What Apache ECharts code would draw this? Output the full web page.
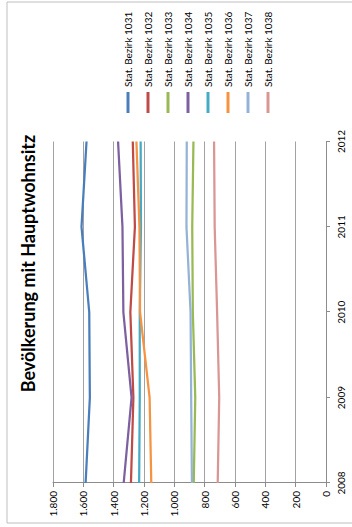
<!DOCTYPE html>
<html>
<head>
<meta charset="utf-8">
<script src="https://cdn.jsdelivr.net/npm/echarts@6/dist/echarts.min.js"></script>
<style>
html,body{margin:0;padding:0;background:#fff;overflow:hidden;width:352px;height:527px;}
#chart{position:absolute;left:0;top:0;width:527px;height:352px;transform-origin:0 0;transform:translate(0,527px) rotate(-90deg);}
</style>
</head>
<body>
<div id="chart"></div>
<script>
const titleText = 'Bevölkerung mit Hauptwohnsitz';
const years = ['2008', '2009', '2010', '2011', '2012'];
const seriesNames = ['Stat. Bezirk 1031','Stat. Bezirk 1032','Stat. Bezirk 1033','Stat. Bezirk 1034','Stat. Bezirk 1035','Stat. Bezirk 1036','Stat. Bezirk 1037','Stat. Bezirk 1038'];
const b1031 = [1585, 1557, 1561, 1612, 1579];
const b1032 = [1286, 1270, 1290, 1260, 1274];
const b1033 = [872, 862, 878, 882, 874];
const b1034 = [1334, 1282, 1336, 1342, 1371];
const b1035 = [1232, 1228, 1228, 1220, 1222];
const b1036 = [1152, 1163, 1226, 1230, 1250];
const b1037 = [884, 889, 893, 920, 918];
const b1038 = [714, 704, 718, 734, 738];
const seriesValues = [b1031, b1032, b1033, b1034, b1035, b1036, b1037, b1038];
const colors = ['#4A7EBB','#BE4B48','#98B954','#7D60A0','#46AAC5','#F69240','#95B3D7','#D99694'];

const font = 'Lato, "Open Sans", sans-serif';
const chart = echarts.init(document.getElementById('chart'), null, {renderer: 'svg'});
const fmt = v => String(v).replace(/\B(?=(\d{3})+(?!\d))/g, '.');

chart.setOption({
  animation: false,
  backgroundColor: '#fff',
  color: colors,
  title: {
    text: titleText, left: 'center', top: 19, padding: 0,
    textStyle: {fontFamily: font, fontSize: 18, fontWeight: 'bold', color: '#000'}
  },
  graphic: [{
    type: 'rect', silent: true, z: -1,
    shape: {x: 4, y: 7, width: 521, height: 380},
    style: {fill: 'none', stroke: '#BFBFBF', lineWidth: 1}
  }],
  legend: {
    orient: 'vertical', left: 414, top: 122, padding: 0,
    itemWidth: 21, itemHeight: 3, itemGap: 8, icon: 'rect',
    textStyle: {fontFamily: font, fontSize: 10, color: '#000', lineHeight: 12},
    data: seriesNames
  },
  grid: {left: 44, right: 141.5, top: 53, bottom: 26, containLabel: false},
  xAxis: {
    type: 'category', data: years, boundaryGap: false,
    axisLine: {lineStyle: {color: '#8C8C8C', width: 1}},
    axisTick: {show: true, length: 4, inside: false, lineStyle: {color: '#8C8C8C'}},
    axisLabel: {fontFamily: font, fontSize: 10, color: '#000', margin: 10},
    splitLine: {show: false}
  },
  yAxis: {
    type: 'value', min: 0, max: 1800, interval: 200,
    axisLine: {show: true, lineStyle: {color: '#8C8C8C', width: 1}},
    axisTick: {show: true, length: 4, lineStyle: {color: '#8C8C8C'}},
    axisLabel: {fontFamily: font, fontSize: 10, color: '#000', margin: 8, formatter: fmt},
    splitLine: {show: true, lineStyle: {color: '#A2A2A2', width: 1}}
  },
  series: seriesNames.map((n, i) => ({
    name: n, type: 'line', data: seriesValues[i], showSymbol: false, symbol: 'none',
    lineStyle: {width: 2.25, color: colors[i]}, itemStyle: {color: colors[i]}
  }))
});
</script>
</body>
</html>
